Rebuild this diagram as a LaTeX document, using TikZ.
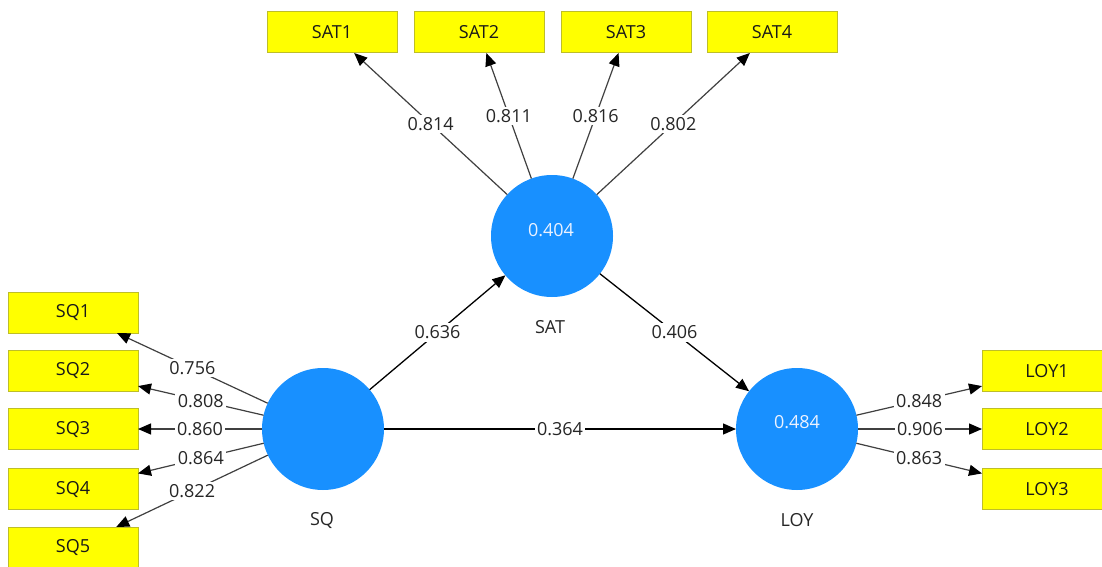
\documentclass[tikz,border=0pt]{standalone}
\usepackage{fontspec}
\setmainfont{Open Sans}
\usetikzlibrary{arrows.meta}
\definecolor{lvblue}{RGB}{24,144,255}
\definecolor{mvyellow}{RGB}{255,255,0}
\definecolor{mvborder}{RGB}{190,190,40}
\definecolor{lvtext}{RGB}{235,242,255}
\begin{document}
\begin{tikzpicture}[x=0.5pt,y=-0.5pt,
  font=\fontsize{9}{11}\selectfont,
  latent/.style={circle,fill=lvblue,minimum size=61pt,inner sep=0pt,outer sep=0pt},
  manifest/.style={rectangle,fill=mvyellow,draw=mvborder,line width=0.5pt,
    minimum width=65pt,minimum height=20.5pt,inner sep=0pt,outer sep=0pt,text=black!90},
  lvname/.style={text=black!85},
  rsq/.style={text=lvtext},
  coef/.style={fill=white,inner sep=1.2pt,text=black!85},
  arrowtip/.style={-{Triangle[length=6.5pt,width=5.5pt,color=black]}},
  loadline/.style={draw=black!75,line width=0.6pt,arrowtip},
  pathline/.style={draw=black,line width=0.65pt,arrowtip}]

% canvas
\fill[white] (0,0) rectangle (1102,567);
\useasboundingbox (0,0) rectangle (1102,567);

% latent variables
\node[latent] (sq)  at (323,429) {};
\node[latent] (sat) at (552,236) {};
\node[latent] (loy) at (797,429) {};

\node[rsq] (satr) at (551,230) {0.404};
\node[rsq] (loyr) at (797,422) {0.484};

\node[lvname] (sqn)  at (322,520) {SQ};
\node[lvname] (satn) at (550,327) {SAT};
\node[lvname] (loyn) at (797,520) {LOY};

% indicators
\node[manifest] (sat1) at (332,32.5) {SAT1};
\node[manifest] (sat2) at (479,32.5) {SAT2};
\node[manifest] (sat3) at (626,32.5) {SAT3};
\node[manifest] (sat4) at (772,32.5) {SAT4};

\node[manifest] (sq1) at (73,312.5) {SQ1};
\node[manifest] (sq2) at (73,371)   {SQ2};
\node[manifest] (sq3) at (73,429)   {SQ3};
\node[manifest] (sq4) at (73,489)   {SQ4};
\node[manifest] (sq5) at (73,547.5) {SQ5};

\node[manifest] (loy1) at (1047,371) {LOY1};
\node[manifest] (loy2) at (1047,429) {LOY2};
\node[manifest] (loy3) at (1047,489) {LOY3};

% outer loadings
\draw[loadline] (sat) -- node[coef] {0.814} (sat1);
\draw[loadline] (sat) -- node[coef] {0.811} (sat2);
\draw[loadline] (sat) -- node[coef] {0.816} (sat3);
\draw[loadline] (sat) -- node[coef] {0.802} (sat4);

\draw[loadline] (sq) -- node[coef] {0.756} (sq1);
\draw[loadline] (sq) -- node[coef] {0.808} (sq2);
\draw[loadline] (sq) -- node[coef] {0.860} (sq3);
\draw[loadline] (sq) -- node[coef] {0.864} (sq4);
\draw[loadline] (sq) -- node[coef] {0.822} (sq5);

\draw[loadline] (loy) -- node[coef] {0.848} (loy1);
\draw[loadline] (loy) -- node[coef] {0.906} (loy2);
\draw[loadline] (loy) -- node[coef] {0.863} (loy3);

% structural paths
\draw[pathline] (sq)  -- node[coef] {0.636} (sat);
\draw[pathline] (sat) -- node[coef] {0.406} (loy);
\draw[pathline] (sq)  -- node[coef] {0.364} (loy);
\end{tikzpicture}
\end{document}
